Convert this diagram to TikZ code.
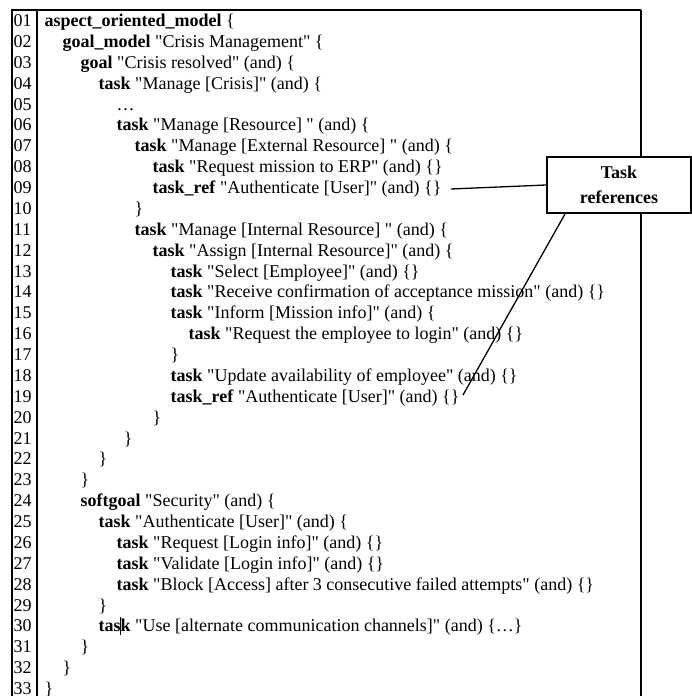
\documentclass[tikz,border=0pt]{standalone}
\usepackage{fontspec}
\newfontfamily\codefont{Liberation Serif}
\usetikzlibrary{calc}

% one listing row: line number, indentation level, source text
\newcommand\srcline[3]{%
  \edef\rowy{\the\numexpr#1-1\relax}%
  \node[lineno] (n#1) at (13.5, {26.5+\rowy*20.875}) {#1};
  \node[codeline] (l#1) at ({44.5+18*#2}, {26.5+\rowy*20.875}) {#3};}
\newcommand\kw[1]{\textbf{#1}}

\begin{document}
\begin{tikzpicture}[x=1pt,y=-1pt,
  codeline/.style={anchor=base west, inner sep=0pt,
    font=\codefont\fontsize{18}{21}\selectfont},
  lineno/.style={codeline},
  frame/.style={line width=1.1pt, black},
  heavyframe/.style={line width=2.6pt, black},
  refbox/.style={draw, line width=2pt, fill=white, inner sep=0pt,
    minimum width=144pt, minimum height=56pt, align=center,
    font=\codefont\bfseries\fontsize{18}{25}\selectfont},
  callout/.style={line width=1.3pt, black}]
\useasboundingbox (0,0) rectangle (692,696);

% table frame
\draw[frame] (12,696) -- (12,10) -- (641,10);
\draw[frame] (37,10) -- (37,696);
\draw[heavyframe] (641,10) -- (641,696);

% listing
\srcline{01}{0}{\kw{aspect\_oriented\_model} \{}
\srcline{02}{1}{\kw{goal\_model} "Crisis Management" \{}
\srcline{03}{2}{\kw{goal} "Crisis resolved" (and) \{}
\srcline{04}{3}{\kw{task} "Manage [Crisis]" (and) \{}
\srcline{05}{4}{…}
\srcline{06}{4}{\kw{task} "Manage [Resource] " (and) \{}
\srcline{07}{5}{\kw{task} "Manage [External Resource] " (and) \{}
\srcline{08}{6}{\kw{task} "Request mission to ERP" (and) \{\}}
\srcline{09}{6}{\kw{task\_ref} "Authenticate [User]" (and) \{\}}
\srcline{10}{5}{\}}
\srcline{11}{5}{\kw{task} "Manage [Internal Resource] " (and) \{}
\srcline{12}{6}{\kw{task} "Assign [Internal Resource]" (and) \{}
\srcline{13}{7}{\kw{task} "Select [Employee]" (and) \{\}}
\srcline{14}{7}{\kw{task} "Receive confirmation of acceptance mission" (and) \{\}}
\srcline{15}{7}{\kw{task} "Inform [Mission info]" (and) \{}
\srcline{16}{8}{\kw{task} "Request the employee to login" (and) \{\}}
\srcline{17}{7}{\}}
\srcline{18}{7}{\kw{task} "Update availability of employee" (and) \{\}}
\srcline{19}{7}{\kw{task\_ref} "Authenticate [User]" (and) \{\}}
\srcline{20}{6}{\}}
\srcline{21}{4.4}{\}}
\srcline{22}{3}{\}}
\srcline{23}{2}{\}}
\srcline{24}{2}{\kw{softgoal} "Security" (and) \{}
\srcline{25}{3}{\kw{task} "Authenticate [User]" (and) \{}
\srcline{26}{4}{\kw{task} "Request [Login info]" (and) \{\}}
\srcline{27}{4}{\kw{task} "Validate [Login info]" (and) \{\}}
\srcline{28}{4}{\kw{task} "Block [Access] after 3 consecutive failed attempts" (and) \{\}}
\srcline{29}{3}{\}}
\srcline{30}{3}{\kw{task} "Use [alternate communication channels]" (and) \{…\}}
\srcline{31}{2}{\}}
\srcline{32}{1}{\}}
\srcline{33}{0}{\}}

% text cursor inside "task" on row 30
\draw[line width=0.8pt] ($(l30.base west)+(22.2,-15)$) -- ($(l30.base west)+(22.2,3)$);

% callout
\node[refbox] (refbox) at (619,185) {Task\\references};
\coordinate (ref1) at (451,189);
\coordinate (ref2) at (463,395);
\draw[callout] (refbox.west) -- (ref1);
\draw[callout] ($(refbox.south west)+(19,0)$) -- (ref2);
\end{tikzpicture}
\end{document}
